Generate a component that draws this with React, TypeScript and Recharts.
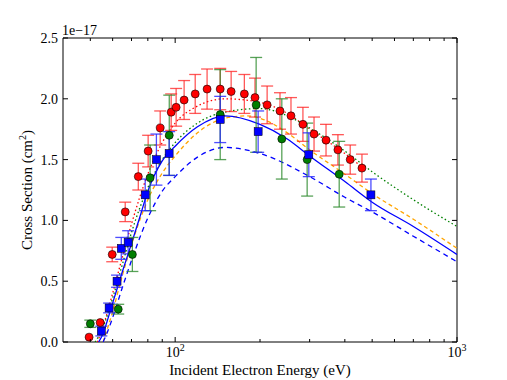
import React from "react";
import {
  ComposedChart,
  Line,
  Scatter,
  XAxis,
  YAxis,
  ErrorBar,
  ReferenceArea,
} from "recharts";

// ---- scatter data (energy in eV, cross section in 1e-17 cm^2) ----
const redX = [49.5, 54.2, 59.8, 66.5, 74, 80.2, 88.5, 96.8, 100.8, 107.6, 117.8, 129.8, 144.5, 158, 176, 192, 212, 235.5, 257.6, 284, 311, 343, 378, 418, 460];
const redY = [0.04, 0.16, 0.72, 1.07, 1.36, 1.57, 1.76, 1.89, 1.93, 1.99, 2.04, 2.08, 2.08, 2.06, 2.04, 2.01, 1.95, 1.9, 1.86, 1.79, 1.71, 1.66, 1.58, 1.5, 1.43];
const redErr = [0, 0, 0.06, 0.08, 0.11, 0.13, 0.14, 0.15, 0.155, 0.16, 0.16, 0.165, 0.17, 0.165, 0.16, 0.16, 0.155, 0.15, 0.15, 0.14, 0.14, 0.13, 0.125, 0.12, 0.115];

const greenX = [50, 62.8, 70.5, 81.5, 95.3, 144.5, 193.8, 239, 294, 382];
const greenY = [0.15, 0.27, 0.72, 1.35, 1.7, 1.87, 1.95, 1.67, 1.5, 1.38];
const greenErr = [0.03, 0.04, 0.14, 0.27, 0.33, 0.37, 0.39, 0.33, 0.3, 0.27];

const blueX = [54.7, 58.3, 62.2, 64.4, 68.1, 78.3, 85.8, 95.2, 144.5, 197, 298, 495];
const blueY = [0.09, 0.28, 0.5, 0.77, 0.82, 1.21, 1.5, 1.55, 1.83, 1.73, 1.54, 1.21];
const blueErr = [0.04, 0.04, 0.05, 0.09, 0.095, 0.13, 0.21, 0.18, 0.19, 0.17, 0.18, 0.13];

// ---- theory curves ----
const solidE = [53.5, 55, 60, 65, 70, 75, 80, 90, 100, 120, 150, 200, 250, 300, 400, 500, 700, 1000];
const solidY = [0, 0.05, 0.32, 0.58, 0.81, 1.03, 1.24, 1.49, 1.61, 1.77, 1.86, 1.79, 1.67, 1.53, 1.32, 1.15, 0.95, 0.72];

const dashE = [55.5, 57, 60, 65, 70, 80, 90, 100, 120, 150, 200, 300, 400, 500, 700, 1000];
const dashY = [0, 0.06, 0.2, 0.45, 0.67, 1.02, 1.24, 1.36, 1.52, 1.6, 1.55, 1.36, 1.19, 1.07, 0.87, 0.66];

const orangeE = [55.5, 60, 65, 70, 80, 90, 100, 120, 150, 180, 200, 250, 300, 400, 500, 700, 1000];
const orangeY = [0, 0.25, 0.55, 0.8, 1.17, 1.39, 1.53, 1.72, 1.84, 1.86, 1.84, 1.72, 1.58, 1.38, 1.22, 1.01, 0.77];

const greenLineE = [52, 55, 60, 65, 70, 80, 90, 100, 120, 150, 200, 250, 300, 400, 500, 700, 1000];
const greenLineY = [0, 0.1, 0.36, 0.64, 0.9, 1.27, 1.5, 1.64, 1.8, 1.89, 1.92, 1.86, 1.76, 1.57, 1.4, 1.17, 0.95];

const redLineE = [53, 55, 60, 65, 70, 80, 90, 100, 120, 150, 200, 250, 300, 400, 460];
const redLineY = [0, 0.1, 0.4, 0.7, 0.97, 1.38, 1.64, 1.8, 1.94, 2.0, 1.97, 1.88, 1.75, 1.55, 1.44];

// ---- ticks ----
const xTicks = [50, 60, 70, 80, 90, 100, 200, 300, 400, 500, 600, 700, 800, 900, 1000];
const xMajor = [100, 1000];
const xMajorExp = ["2", "3"];
const yTicks = [0, 0.5, 1, 1.5, 2, 2.5];
const yTickLabels = ["0.0", "0.5", "1.0", "1.5", "2.0", "2.5"];

const xTitle = "Incident Electron Energy (eV)";
const yTitle = "Cross Section (cm";
const yTitleSup = "2";
const yTitleEnd = ")";
const offsetText = "1e\u221217";

const FONT_STYLE = { fontFamily: "'Liberation Serif', 'Times New Roman', 'DejaVu Serif', serif" };

const W = 507;
const H = 380;
const M = { top: 38, right: 50, bottom: 0, left: 0 };
const XH = 38;
const YW = 63;
const plotLeft = M.left + YW;
const plotRight = W - M.right;
const plotTop = M.top;
const plotBottom = H - M.bottom - XH;

const zip = (xs: number[], ys: number[], es?: number[]) =>
  xs.map((x, i) => ({ x, y: ys[i], err: es ? es[i] : 0 }));

const redData = zip(redX, redY, redErr);
const greenData = zip(greenX, greenY, greenErr);
const blueData = zip(blueX, blueY, blueErr);
const solidData = zip(solidE, solidY);
const dashData = zip(dashE, dashY);
const orangeData = zip(orangeE, orangeY);
const greenLineData = zip(greenLineE, greenLineY);
const redLineData = zip(redLineE, redLineY);

const XTick = (props: any) => {
  const { x, payload } = props;
  const v = payload.value;
  const mi = xMajor.indexOf(v);
  const len = mi >= 0 ? 5 : 3;
  return (
    <g>
      <line x1={x} x2={x} y1={plotBottom} y2={plotBottom - len} stroke="#000" strokeWidth={1} />
      <line x1={x} x2={x} y1={plotTop} y2={plotTop + len} stroke="#000" strokeWidth={1} />
      {mi >= 0 && (
        <text x={x} y={plotBottom + 15} textAnchor="middle" style={FONT_STYLE} fontSize={14} fill="#000">
          10
          <tspan dy={-6} fontSize={10}>
            {xMajorExp[mi]}
          </tspan>
        </text>
      )}
    </g>
  );
};

const YTick = (props: any) => {
  const { y, payload } = props;
  const i = yTicks.indexOf(payload.value);
  return (
    <g>
      <line x1={plotLeft} x2={plotLeft + 5} y1={y} y2={y} stroke="#000" strokeWidth={1} />
      <line x1={plotRight} x2={plotRight - 5} y1={y} y2={y} stroke="#000" strokeWidth={1} />
      <text x={plotLeft - 5} y={y + 5} textAnchor="end" style={FONT_STYLE} fontSize={14} fill="#000">
        {yTickLabels[i]}
      </text>
    </g>
  );
};

const RedDot = (p: any) => (
  <circle cx={p.cx} cy={p.cy} r={4} fill="#ff0000" stroke="#000" strokeWidth={0.6} />
);
const GreenDot = (p: any) => (
  <circle cx={p.cx} cy={p.cy} r={4} fill="#007f00" stroke="#000" strokeWidth={0.6} />
);
const BlueSquare = (p: any) => (
  <rect x={p.cx - 4} y={p.cy - 4} width={8} height={8} fill="#0000ff" stroke="#000" strokeWidth={0.5} />
);

export default function App() {
  return (
    <div style={{ position: "absolute", left: 0, top: 0, width: W, height: H, background: "#fff" }}>
      <ComposedChart width={W} height={H} margin={M}>
        <XAxis
          dataKey="x"
          type="number"
          scale="log"
          domain={[40, 1000]}
          allowDataOverflow
          ticks={xTicks}
          interval={0}
          tick={<XTick />}
          tickLine={false}
          axisLine={false}
          height={XH}
        />
        <YAxis
          dataKey="y"
          type="number"
          domain={[0, 2.5]}
          allowDataOverflow
          ticks={yTicks}
          interval={0}
          tick={<YTick />}
          tickLine={false}
          axisLine={false}
          width={YW}
        />
        <Line data={redLineData} dataKey="y" type="monotone" stroke="#ff0000" strokeWidth={1.3} strokeDasharray="1.5 2.5" dot={false} isAnimationActive={false} />
        <Line data={greenLineData} dataKey="y" type="monotone" stroke="#008000" strokeWidth={1.3} strokeDasharray="1.5 2.5" dot={false} isAnimationActive={false} />
        <Line data={orangeData} dataKey="y" type="monotone" stroke="#ffa500" strokeWidth={1.3} strokeDasharray="4 3" dot={false} isAnimationActive={false} />
        <Line data={dashData} dataKey="y" type="monotone" stroke="#0000ff" strokeWidth={1.3} strokeDasharray="5 4" dot={false} isAnimationActive={false} />
        <Line data={solidData} dataKey="y" type="monotone" stroke="#0000ff" strokeWidth={1.3} dot={false} isAnimationActive={false} />
        <Scatter data={redData} dataKey="y" shape={RedDot} isAnimationActive={false}>
          <ErrorBar dataKey="err" direction="y" width={6} stroke="#ff2020" strokeOpacity={0.75} strokeWidth={1.3} />
        </Scatter>
        <Scatter data={greenData} dataKey="y" shape={GreenDot} isAnimationActive={false}>
          <ErrorBar dataKey="err" direction="y" width={6} stroke="#2e8b2e" strokeOpacity={0.8} strokeWidth={1.3} />
        </Scatter>
        <Scatter data={blueData} dataKey="y" shape={BlueSquare} isAnimationActive={false}>
          <ErrorBar dataKey="err" direction="y" width={6} stroke="#2020ff" strokeOpacity={0.8} strokeWidth={1.3} />
        </Scatter>
        <ReferenceArea x1={40} x2={1000} y1={0} y2={2.5} fill="none" stroke="#000" strokeWidth={1} ifOverflow="visible" />
      </ComposedChart>
      <svg
        width={W}
        height={H}
        style={{ position: "absolute", left: 0, top: 0, pointerEvents: "none" }}
      >
        <text x={plotLeft - 1} y={plotTop - 3} style={FONT_STYLE} fontSize={14} fill="#000">
          {offsetText}
        </text>
        <text x={(plotLeft + plotRight) / 2} y={H - 5} textAnchor="middle" style={FONT_STYLE} fontSize={15} fill="#000">
          {xTitle}
        </text>
        <text
          transform={`translate(32, ${(plotTop + plotBottom) / 2}) rotate(-90)`}
          textAnchor="middle"
          style={FONT_STYLE}
          fontSize={15}
          fill="#000"
        >
          {yTitle}
          <tspan dy={-6} fontSize={10}>
            {yTitleSup}
          </tspan>
          <tspan dy={6}>{yTitleEnd}</tspan>
        </text>
      </svg>
    </div>
  );
}
